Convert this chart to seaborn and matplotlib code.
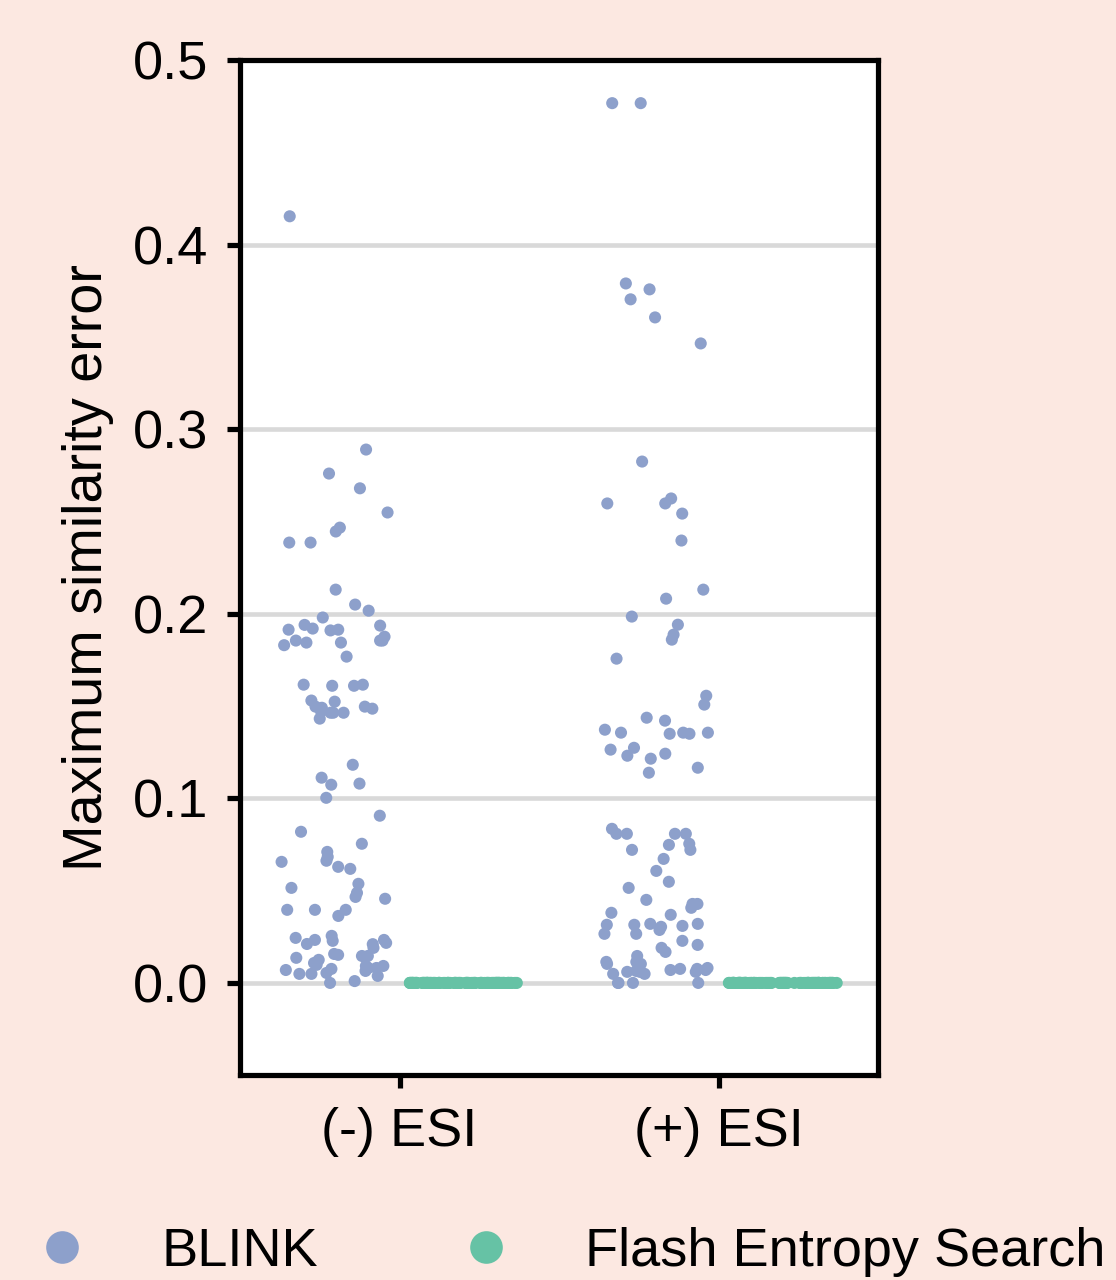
import numpy as np
import pandas as pd
import seaborn as sns
import matplotlib.pyplot as plt

# ---- data ----
categories = ["(-) ESI", "(+) ESI"]
methods = ["BLINK", "Flash Entropy Search"]

neg_blink = [
    0.4154, 0.289, 0.276, 0.268, 0.2549, 0.2467, 0.2446, 0.2386, 0.2386,
    0.2131, 0.205, 0.2017, 0.198, 0.1914, 0.192, 0.1936, 0.194, 0.191,
    0.1855, 0.183, 0.1768, 0.1876, 0.1844, 0.1844, 0.1855, 0.1855, 0.1914,
    0.1616, 0.161, 0.161, 0.1616, 0.1524, 0.1491, 0.1464, 0.147, 0.1486,
    0.1497, 0.1497, 0.1464, 0.153, 0.1464, 0.1432, 0.1182, 0.1112, 0.1074,
    0.108, 0.1003, 0.0906, 0.0819, 0.0754, 0.0710, 0.0683, 0.0618, 0.0629,
    0.0662, 0.0656, 0.0515, 0.0537, 0.0363, 0.0488, 0.0456, 0.0466, 0.0396,
    0.0396, 0.0396, 0.0211, 0.0217, 0.0233, 0.019, 0.0228, 0.021, 0.0244,
    0.0233, 0.0255, 0.0146, 0.0157, 0.0136, 0.0125, 0.0098, 0.0108, 0.0049,
    0.0054, 0.0, 0.0065, 0.0146, 0.0152, 0.0076, 0.0092, 0.0038, 0.001,
    0.0081, 0.0092, 0.007, 0.0081, 0.0049,
]

pos_blink = [
    0.4767, 0.4767, 0.379, 0.3758, 0.3704, 0.3606, 0.3465, 0.2825,
    0.2625, 0.2598, 0.2543, 0.2598, 0.2397, 0.2131, 0.2082, 0.1985, 0.1887,
    0.1941, 0.186, 0.1757, 0.1556, 0.1508, 0.1437, 0.1421, 0.1372, 0.1356,
    0.135, 0.135, 0.1356, 0.1356,
    0.1274, 0.1231, 0.1242, 0.1264, 0.1166, 0.1215, 0.1139, 0.0835, 0.0808,
    0.0754, 0.0748, 0.0808, 0.0808, 0.0808, 0.0721, 0.0672, 0.0721, 0.0607,
    0.0548, 0.0515, 0.0428, 0.045, 0.0428, 0.0407, 0.038, 0.0369, 0.0315,
    0.0309, 0.0287, 0.032, 0.032, 0.0315, 0.0304, 0.0266, 0.0266, 0.0228,
    0.019, 0.0206, 0.0168, 0.0146, 0.0081, 0.0049, 0.0114, 0.0076, 0.0103,
    0.006, 0.006, 0.0065, 0.0076, 0.007, 0.0114, 0.0103, 0.006, 0.007,
    0.0049, 0.0, 0.0, 0.0, 0.0,
]

# Flash Entropy Search: every spectrum has zero error
neg_flash = np.zeros(len(neg_blink))
pos_flash = np.zeros(len(pos_blink))

palette = {"BLINK": "#8da0cb", "Flash Entropy Search": "#66c2a5"}
bg = "#fce8e1"

frames = []
for cat, method, vals in [
    (categories[0], methods[0], neg_blink),
    (categories[0], methods[1], neg_flash),
    (categories[1], methods[0], pos_blink),
    (categories[1], methods[1], pos_flash),
]:
    frames.append(pd.DataFrame({"ESI": cat, "method": method, "error": vals}))
df = pd.concat(frames, ignore_index=True)

# ---- plot ----
plt.rcParams["font.family"] = ["Liberation Sans", "DejaVu Sans"]
FS = 13

fig = plt.figure(figsize=(3.72, 4.2667), dpi=300, facecolor=bg)
ax = fig.add_axes([0.215, 0.160, 0.572, 0.793])
ax.set_facecolor("white")

np.random.seed(7)
sns.stripplot(
    data=df, x="ESI", y="error", hue="method",
    order=categories, hue_order=methods, palette=palette,
    dodge=True, jitter=0.34, size=2.9, linewidth=0, ax=ax, zorder=3,
)

ax.set_xlim(-0.5, 1.5)
ax.set_ylim(-0.05, 0.5)
ax.set_yticks([0.0, 0.1, 0.2, 0.3, 0.4, 0.5])
ax.yaxis.set_major_formatter("{x:.1f}")
ax.grid(axis="y", color="#d9d9d9", lw=1.1, zorder=0)
ax.grid(axis="x", visible=False)
ax.set_axisbelow(True)
ax.set_xlabel("")
ax.set_ylabel("Maximum similarity error", fontsize=13.4, labelpad=4.5)
for s in ax.spines.values():
    s.set_linewidth(1.25)
    s.set_color("black")
ax.tick_params(width=1.25, length=3.2, labelsize=FS, pad=4.5)

sns.move_legend(
    ax, "center left", bbox_to_anchor=(8 / 1116, 1 - 1252 / 1280),
    bbox_transform=fig.transFigure, ncol=2, frameon=False,
    title=None, fontsize=FS, markerscale=2.7, handletextpad=0.83,
    columnspacing=2.1, borderpad=0, borderaxespad=0,
)

fig.savefig("out.png", dpi=300, facecolor=bg)
